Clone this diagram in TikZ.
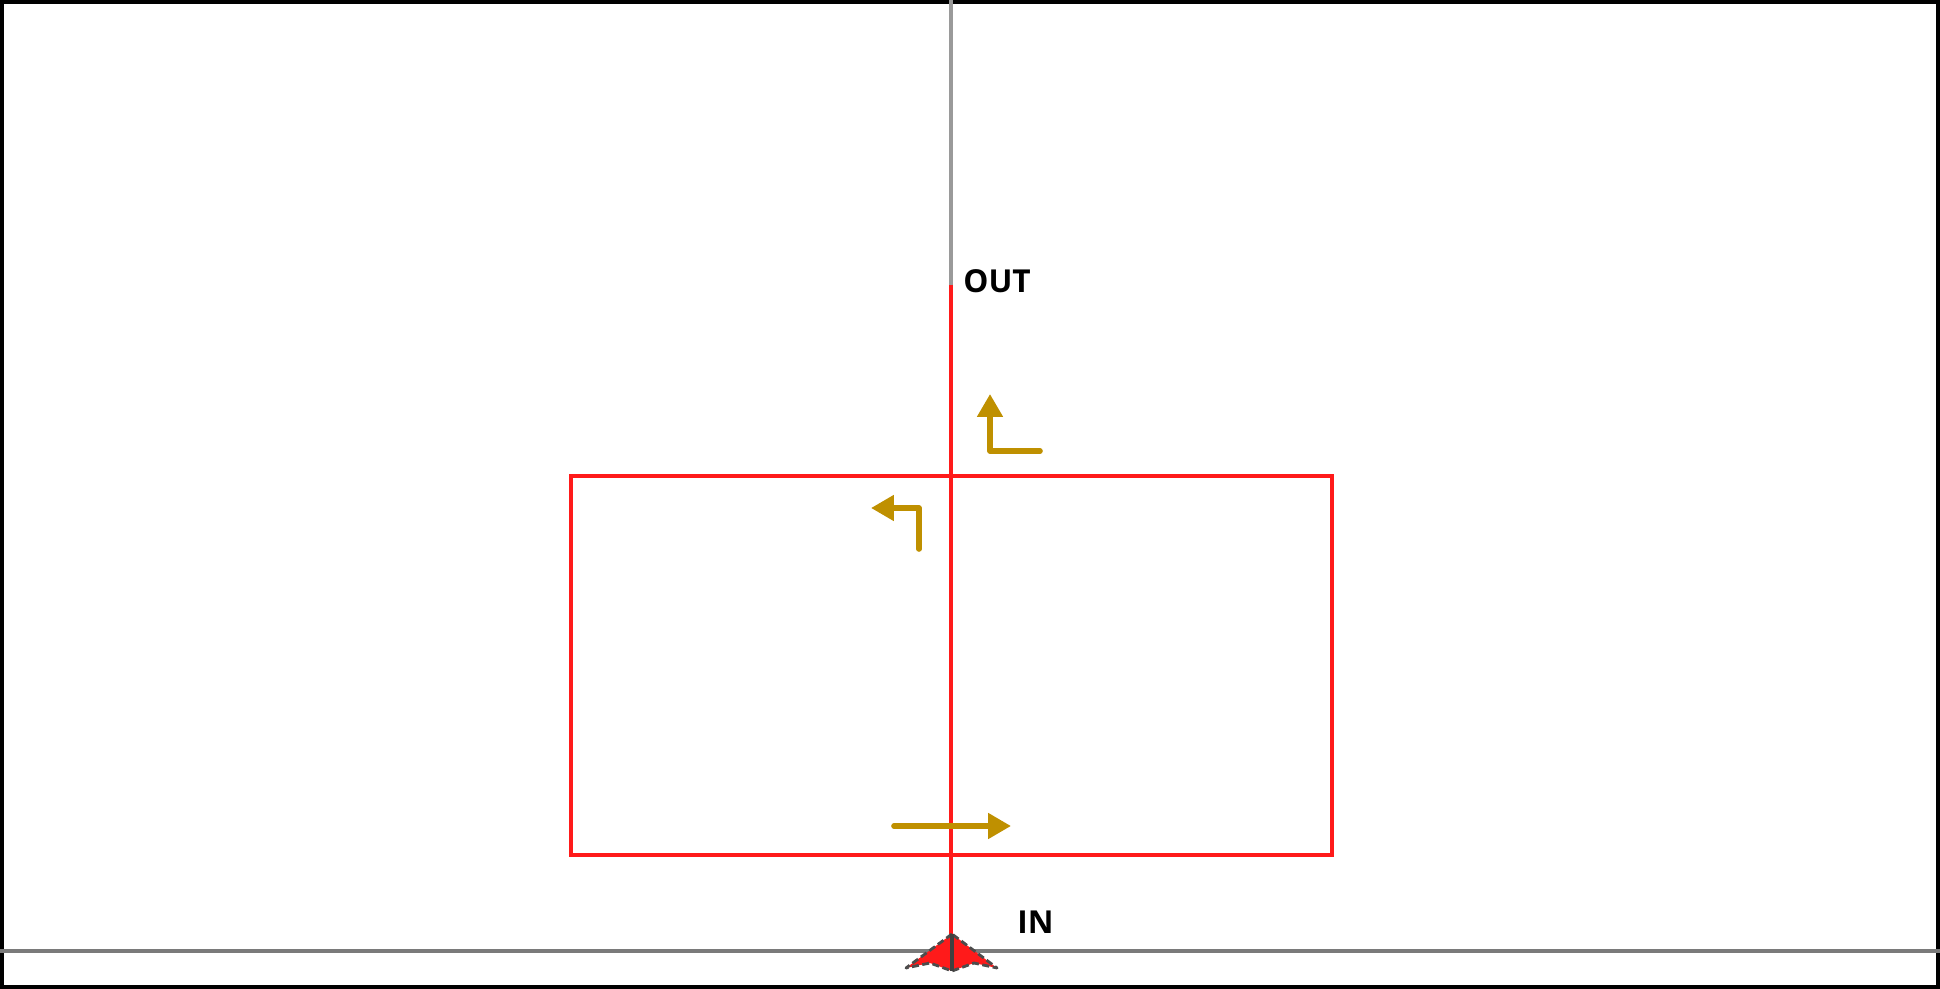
\documentclass[tikz,border=0pt]{standalone}
\usepackage{fontspec}
\setmainfont{Open Sans}
\usetikzlibrary{arrows.meta}
\definecolor{redline}{HTML}{FF1A1A}
\definecolor{gold}{HTML}{BF9000}
\definecolor{greytop}{HTML}{9A9A9A}
\definecolor{greybot}{HTML}{7A7A7A}
\begin{document}
\begin{tikzpicture}[x=0.02cm,y=-0.02cm,
  redst/.style={draw=redline,line width=2.6pt},
  goldst/.style={draw=gold,line width=3.2pt,line cap=round,line join=round},
  goldtip/.style={-{Triangle[length=13pt,width=14pt]}},
  lbl/.style={font=\bfseries\fontsize{18}{22}\selectfont,inner sep=0pt,anchor=west}]
% frame
\useasboundingbox (0,0) rectangle (1940,989);
\fill[white] (0,0) rectangle (1940,989);
\draw[black,line width=2.2pt] (2,2) rectangle (1938,987);
% coordinates
\coordinate (top) at (951,0);
\coordinate (out) at (951,285);
\coordinate (in) at (951,968);
\coordinate (gl) at (0,951);
\coordinate (gr) at (1940,951);
% grey lines
\draw[greytop,line width=2.6pt] (top) -- (out);
\draw[greybot,line width=2.8pt] (gl) -- (gr);
% red rectangle and line
\draw[redst] (571,476) rectangle (1332,855);
\draw[redst] (out) -- (in);
% bottom arrowhead
\coordinate (tip) at (952,934);
\coordinate (wl) at (906,968);
\coordinate (wr) at (997,968);
\coordinate (notch) at (952,971);
\fill[redline] (tip) -- (wl) -- (930,963) -- (notch) -- (974,963) -- (wr) -- cycle;
\draw[black!70,line width=1.6pt,dash pattern=on 4pt off 2pt,line join=round] (tip) -- (wl) -- (930,963) -- (notch) -- (974,963) -- (wr) -- cycle;
\draw[black!75,line width=2pt] (tip) -- (notch);
% labels
\node[lbl] (outl) at (963,281) {OUT};
\node[lbl] (inl) at (1017,922) {IN};
% gold arrows
\coordinate (a1s) at (1040,451);
\coordinate (a1c) at (990,451);
\coordinate (a1e) at (990,394);
\draw[goldst,goldtip] (a1s) -- (a1c) -- (a1e);
\coordinate (a2s) at (919,549);
\coordinate (a2c) at (919,508);
\coordinate (a2e) at (871,508);
\draw[goldst,goldtip] (a2s) -- (a2c) -- (a2e);
\coordinate (a3s) at (894,826);
\coordinate (a3e) at (1011,826);
\draw[goldst,goldtip] (a3s) -- (a3e);
\end{tikzpicture}
\end{document}
